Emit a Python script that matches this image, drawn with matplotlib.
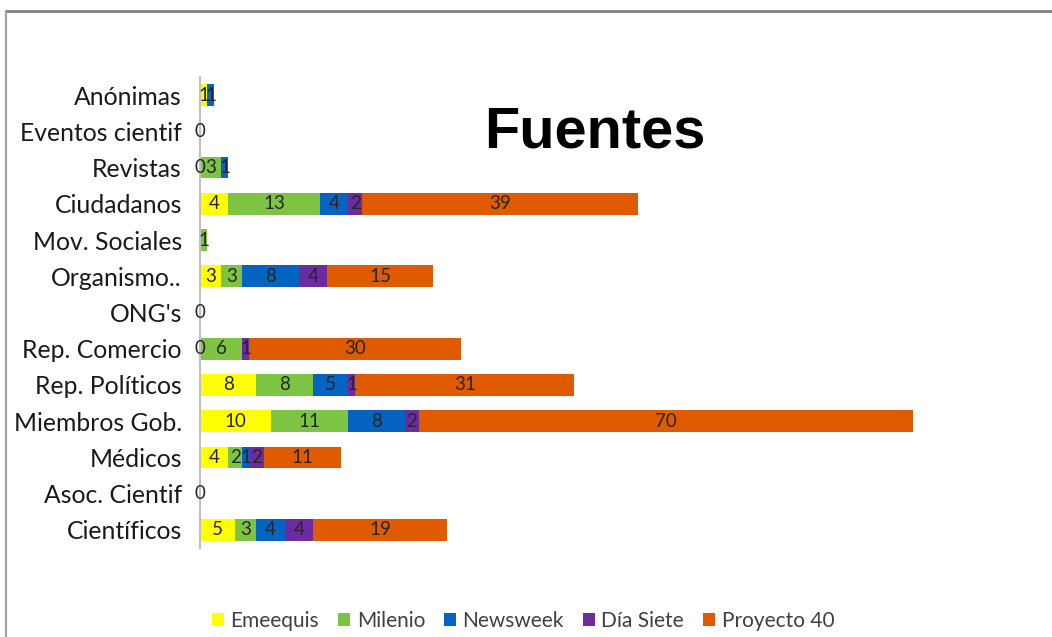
import numpy as np
import matplotlib
matplotlib.use("Agg")
import matplotlib.pyplot as plt
from matplotlib.lines import Line2D

plt.rcParams['font.family'] = ['Lato', 'DejaVu Sans']

categories = ["Científicos", "Asoc. Cientif", "Médicos", "Miembros Gob.", "Rep. Políticos",
              "Rep. Comercio", "ONG's", "Organismo..", "Mov. Sociales", "Ciudadanos",
              "Revistas", "Eventos cientif", "Anónimas"]
series_names = ["Emeequis", "Milenio", "Newsweek", "Día Siete", "Proyecto 40"]
nan = np.nan
emeequis   = [5, 0,   4, 10, 8, 0,   0,   3, nan, 4, 0,   0,   1]
milenio    = [3, nan, 2, 11, 8, 6,   nan, 3, 1,   13, 3,  nan, nan]
newsweek   = [4, nan, 1, 8,  5, nan, nan, 8, nan, 4, 1,   nan, 1]
dia_siete  = [4, nan, 2, 2,  1, 1,   nan, 4, nan, 2, nan, nan, nan]
proyecto40 = [19, nan, 11, 70, 31, 30, nan, 15, nan, 39, nan, nan, nan]
colors = ["#FFFF00", "#7DC443", "#0563C1", "#6A2C9E", "#E05A00"]

W, H = 1052, 637
fig = plt.figure(figsize=(W/100, H/100), dpi=100)
ax = fig.add_axes([200/W, 1-548/H, 800/W, (548-77)/H])

data = [emeequis, milenio, newsweek, dia_siete, proyecto40]
y = np.arange(len(categories))
left = np.zeros(len(categories))
for name, vals, c in zip(series_names, data, colors):
    v = np.array(vals, dtype=float)
    w = np.nan_to_num(v)
    ax.barh(y, w, left=left, height=0.6, color=c, label=name)
    for i, val in enumerate(v):
        if not np.isnan(val):
            ax.text(left[i] + val/2, y[i], f"{int(val)}", ha='center', va='center',
                    fontsize=13.5, color='#262626')
    left += w

ax.set_xlim(0, 800/7.06)
ax.set_ylim(-0.5, len(categories)-0.5)
ax.set_yticks(y)
ax.set_yticklabels(categories, fontsize=17.8, color='#1a1a1a')
ax.tick_params(axis='y', length=0, pad=13)
ax.set_xticks([])
for s in ['top', 'right', 'bottom']:
    ax.spines[s].set_visible(False)
ax.spines['left'].set_color('#BFBFBF')
ax.spines['left'].set_linewidth(1.5)

fig.text(595/W, 1-133/H, "Fuentes", ha='center', va='center', fontsize=41.5,
         fontweight='bold', family=['Liberation Sans', 'DejaVu Sans'])

handles, labels = ax.get_legend_handles_labels()
fig.legend(handles, labels, loc='center', bbox_to_anchor=(523/W, 1-621/H), ncol=5,
           frameon=False, fontsize=15, handlelength=0.6, handleheight=0.6,
           handletextpad=0.3, columnspacing=0.9, labelcolor='#404040')

fig.add_artist(Line2D([6/W, 1], [1-11/H, 1-11/H], color='#808080', lw=2))
fig.add_artist(Line2D([6/W, 6/W], [0, 1-11/H], color='#A0A0A0', lw=1.5))

fig.savefig("out.png", dpi=100)
